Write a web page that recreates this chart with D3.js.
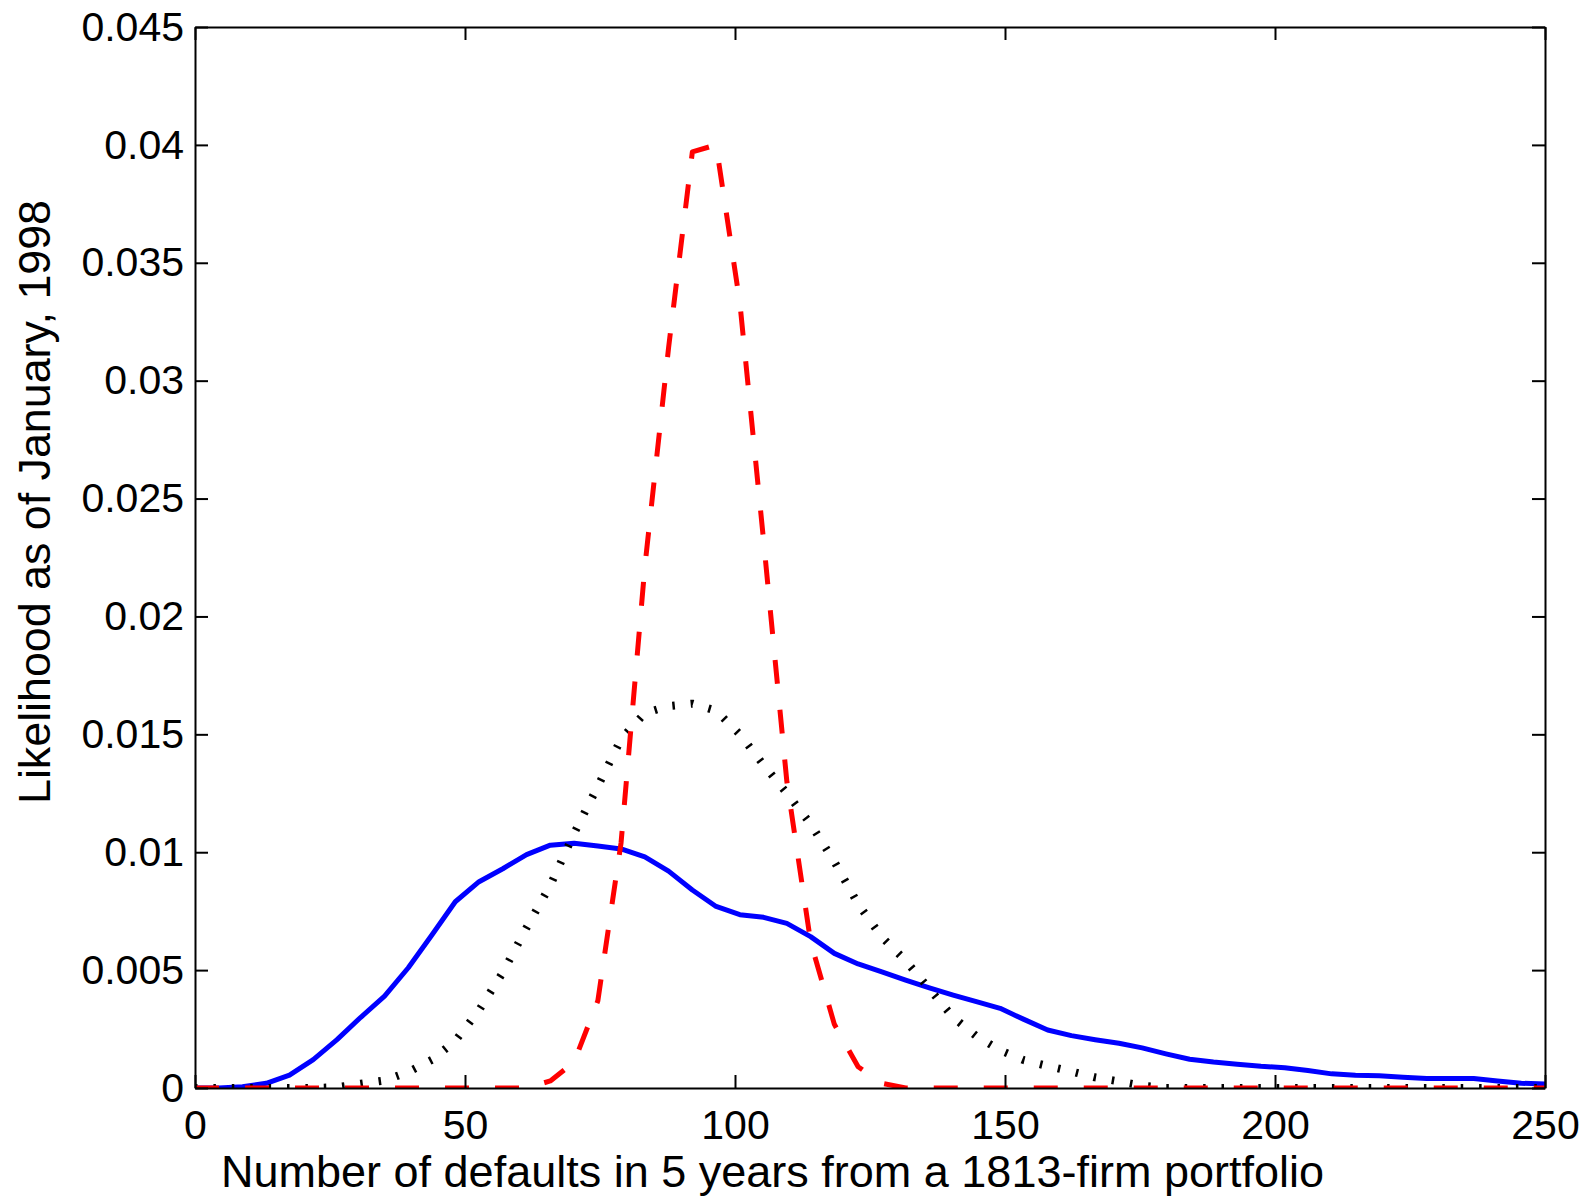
<!DOCTYPE html>
<html>
<head>
<meta charset="utf-8">
<script src="https://cdn.jsdelivr.net/npm/d3@7"></script>
<style>
  body { margin: 0; background: #fff; }
  text { font-family: "Liberation Sans", Arial, Helvetica, sans-serif; }
</style>
</head>
<body>
<div id="chart"></div>
<script>
// number of defaults (x grid shared by the three curves)
const defaults = [0, 4.4, 8.8, 13.2, 17.5, 21.9, 26.3, 30.7, 35.1, 39.5, 43.9, 48.2, 52.6, 57.0, 61.4,
    65.8, 70.2, 74.6, 78.9, 83.3, 87.7, 92.1, 96.5, 100.9, 105.3, 109.6, 114.0, 118.4, 122.8, 127.2,
    131.6, 136.0, 140.4, 144.7, 149.1, 153.5, 157.9, 162.3, 166.7, 171.1, 175.4, 179.8, 184.2, 188.6,
    193.0, 197.4, 201.8, 206.1, 210.5, 214.9, 219.3, 223.7, 228.1, 232.5, 236.8, 241.2, 245.6, 250];

// solid blue curve
const solidSeries = [0, 0, 0.00005, 0.0002, 0.00055, 0.0012, 0.00205, 0.003, 0.0039, 0.0051, 0.0065,
    0.0079, 0.00875, 0.0093, 0.0099, 0.0103, 0.01038, 0.01026, 0.01014, 0.0098, 0.0092, 0.0084,
    0.0077, 0.00735, 0.00724, 0.00698, 0.00642, 0.00571, 0.00526, 0.00493, 0.00458, 0.00425,
    0.00394, 0.00366, 0.00338, 0.00291, 0.00246, 0.00222, 0.00205, 0.0019, 0.0017, 0.00145,
    0.00122, 0.0011, 0.00101, 0.00092, 0.00086, 0.00074, 0.0006, 0.00054, 0.00052, 0.00046,
    0.0004, 0.0004, 0.0004, 0.0003, 0.0002, 0.00017];

// dotted black curve
const dottedSeries = [0, 0, 0, 0, 0, 0, 0.00003, 0.00018, 0.00032, 0.00068, 0.0012, 0.002, 0.0033,
    0.0049, 0.0068, 0.0086, 0.0108, 0.0128, 0.0148, 0.0159, 0.0162, 0.0163, 0.016, 0.015, 0.0137,
    0.0125, 0.0112, 0.0096, 0.0078, 0.0064, 0.0054, 0.0042, 0.003, 0.0022, 0.0016, 0.00118,
    0.00093, 0.0007, 0.00045, 0.00028, 0.0001, 0, 0, 0, 0, 0, 0, 0, 0, 0, 0, 0, 0, 0, 0, 0, 0, 0];

// dashed red curve
const dashedSeries = [0, 0, 0, 0, 0, 0, 0, 0, 0, 0, 0, 0, 0, 0, 0, 0.0003, 0.0011, 0.0037, 0.0104,
    0.0221, 0.0314, 0.0397, 0.04, 0.0333, 0.0232, 0.013, 0.0062, 0.0027, 0.0009, 0.0002, 0, 0, 0,
    0, 0, 0, 0, 0, 0, 0, 0, 0, 0, 0, 0, 0, 0, 0, 0, 0, 0, 0, 0, 0, 0, 0, 0, 0];

const xTicks = [0, 50, 100, 150, 200, 250];
const yTicks = [0, 0.005, 0.01, 0.015, 0.02, 0.025, 0.03, 0.035, 0.04, 0.045];
const yTickLabels = ["0", "0.005", "0.01", "0.015", "0.02", "0.025", "0.03", "0.035", "0.04", "0.045"];

const xLabel = "Number of defaults in 5 years from a 1813-firm portfolio";
const yLabel = "Likelihood as of January, 1998";

const margin = {top: 27, right: 40, bottom: 111, left: 195},
    width = 1350,
    height = 1061;

const svg = d3.select("#chart")
    .append("svg")
        .attr("width", 1585)
        .attr("height", 1199);

const g = svg.append("g")
    .attr("transform", `translate(${margin.left}, ${margin.top})`);

const x = d3.scaleLinear().domain([0, 250]).range([0, width]);
const y = d3.scaleLinear().domain([0, 0.045]).range([height, 0]);

g.append("clipPath").attr("id", "plotclip")
    .append("rect").attr("x", 0).attr("y", 0).attr("width", width).attr("height", height);

const line = d3.line()
    .x(d => x(d[0]))
    .y(d => y(d[1]));

const curves = [
    {values: solidSeries, color: "#0000ff", w: 5, dash: null},
    {values: dottedSeries, color: "#000000", w: 8, dash: "2.5,15.9"},
    {values: dashedSeries, color: "#ff0000", w: 5, dash: "24,26"}
];

const plot = g.append("g").attr("clip-path", "url(#plotclip)");
curves.forEach(c => {
    plot.append("path")
        .datum(defaults.map((d, i) => [d, c.values[i]]))
        .attr("fill", "none")
        .attr("stroke", c.color)
        .attr("stroke-width", c.w)
        .attr("stroke-dasharray", c.dash)
        .attr("stroke-linejoin", "round")
        .attr("d", line);
});

// axes: ticks inside on all four sides
const tickLen = 13;
function styleAxis(sel) {
    sel.select(".domain").attr("stroke", "#000").attr("stroke-width", 2);
    sel.selectAll(".tick line").attr("stroke", "#000").attr("stroke-width", 2);
    sel.selectAll("text")
        .style("font-family", '"Liberation Sans", Arial, Helvetica, sans-serif')
        .style("font-size", "41px")
        .attr("fill", "#000");
}

g.append("g")
    .attr("transform", `translate(0, ${height})`)
    .call(d3.axisBottom(x).tickValues(xTicks).tickSizeInner(-tickLen).tickSizeOuter(0)
        .tickPadding(22).tickFormat(d3.format("d")))
    .call(styleAxis);

g.append("g")
    .call(d3.axisTop(x).tickValues(xTicks).tickSizeInner(-tickLen).tickSizeOuter(0).tickFormat(""))
    .call(styleAxis);

g.append("g")
    .call(d3.axisLeft(y).tickValues(yTicks).tickSizeInner(-tickLen).tickSizeOuter(0)
        .tickPadding(11).tickFormat((d, i) => yTickLabels[i]))
    .call(styleAxis);

g.append("g")
    .attr("transform", `translate(${width}, 0)`)
    .call(d3.axisRight(y).tickValues(yTicks).tickSizeInner(-tickLen).tickSizeOuter(0).tickFormat(""))
    .call(styleAxis);

// axis titles
svg.append("text")
    .attr("x", 221)
    .attr("y", 1187)
    .attr("text-anchor", "start")
    .attr("textLength", 1103)
    .attr("lengthAdjust", "spacingAndGlyphs")
    .style("font-size", "44px")
    .text(xLabel);

svg.append("text")
    .attr("transform", "translate(50, 804) rotate(-90)")
    .attr("text-anchor", "start")
    .attr("textLength", 604)
    .attr("lengthAdjust", "spacingAndGlyphs")
    .style("font-size", "44px")
    .text(yLabel);
</script>
</body>
</html>
